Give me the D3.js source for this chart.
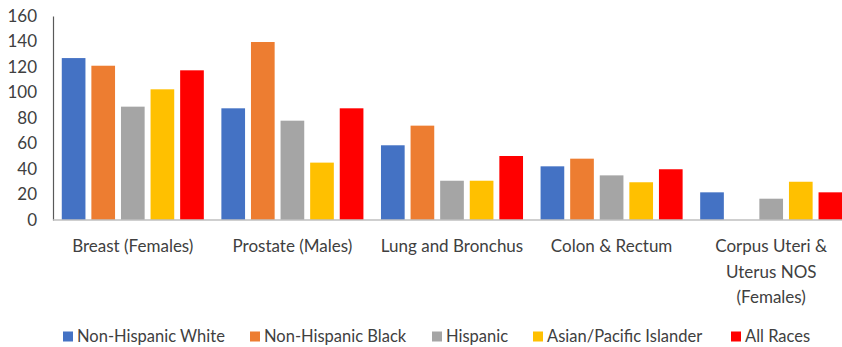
<!DOCTYPE html>
<html><head><meta charset="utf-8">
<script src="https://cdn.jsdelivr.net/npm/d3@7"></script>
<style>body{margin:0;background:#fff}svg{display:block}text{font-family:Lato,"Open Sans",sans-serif;fill:#404040}</style>
</head><body><svg id="c" width="842" height="347"></svg>
<script>
const categories = ["Breast (Females)", "Prostate (Males)", "Lung and Bronchus", "Colon & Rectum", "Corpus Uteri & Uterus NOS (Females)"];
const categoryLines = [["Breast (Females)"], ["Prostate (Males)"], ["Lung and Bronchus"], ["Colon & Rectum"], ["Corpus Uteri &", "Uterus NOS", "(Females)"]];
const seriesNames = ["Non-Hispanic White", "Non-Hispanic Black", "Hispanic", "Asian/Pacific Islander", "All Races"];
const nhWhite = [127, 87.6, 58.6, 42.1, 21.7];
const nhBlack = [121, 139.6, 74, 48.1, null];
const hispanic = [88.9, 77.9, 30.8, 35, 16.7];
const asianPI = [102.5, 45, 30.8, 29.6, 30];
const allRaces = [117.4, 87.6, 50.2, 39.8, 21.7];
const yTicks = [0, 20, 40, 60, 80, 100, 120, 140, 160];
const colors = ["#4472C4", "#ED7D31", "#A5A5A5", "#FFC000", "#FF0000"];

(function () {
const series = [nhWhite, nhBlack, hispanic, asianPI, allRaces];
const svg = d3.select("#c");
const mL = 53, mR = 851, mT = 16, mB = 220;
const y = d3.scaleLinear().domain([0, 160]).range([mB, mT]);
const x0 = d3.scaleBand().domain(categories).range([mL, mR]).paddingInner(0.11).paddingOuter(0.055);
const x1 = d3.scaleBand().domain(seriesNames).range([0, x0.bandwidth()]).paddingInner(0.2);

const g = svg.append("g");
categories.forEach((c, ci) => {
  series.forEach((s, si) => {
    const v = s[ci];
    if (v == null) return;
    g.append("rect")
      .attr("x", x0(c) + x1(seriesNames[si]))
      .attr("y", y(v))
      .attr("width", x1.bandwidth())
      .attr("height", y(0) - y(v))
      .attr("fill", colors[si]);
  });
});

const ya = svg.append("g").attr("transform", `translate(${mL},0)`)
  .call(d3.axisLeft(y).tickValues(yTicks).tickSize(0).tickPadding(16));
ya.select(".domain").attr("stroke", "#595959").attr("stroke-width", 1.2);
ya.selectAll("text").style("font-size", "17px").attr("fill", "#404040").style("font-family", "Lato, sans-serif");

svg.append("line").attr("x1", mL).attr("x2", 842).attr("y1", y(0)).attr("y2", y(0))
  .attr("stroke", "#BFBFBF").attr("stroke-width", 1.5);

categories.forEach((c, ci) => {
  const cx = x0(c) + x0.bandwidth() / 2;
  const t = svg.append("text").attr("text-anchor", "middle")
    .attr("x", cx).attr("y", 252).style("font-size", "17px");
  categoryLines[ci].forEach((l, li) => {
    t.append("tspan").attr("x", cx).attr("dy", li === 0 ? 0 : 25.5).text(l);
  });
});

const legendX = [63, 250, 432, 533, 731];
seriesNames.forEach((n, i) => {
  svg.append("rect").attr("x", legendX[i]).attr("y", 331.5).attr("width", 10).attr("height", 10).attr("fill", colors[i]);
  svg.append("text").attr("x", legendX[i] + 14).attr("y", 342).style("font-size", "16.5px").text(n);
});
})();
</script></body></html>
